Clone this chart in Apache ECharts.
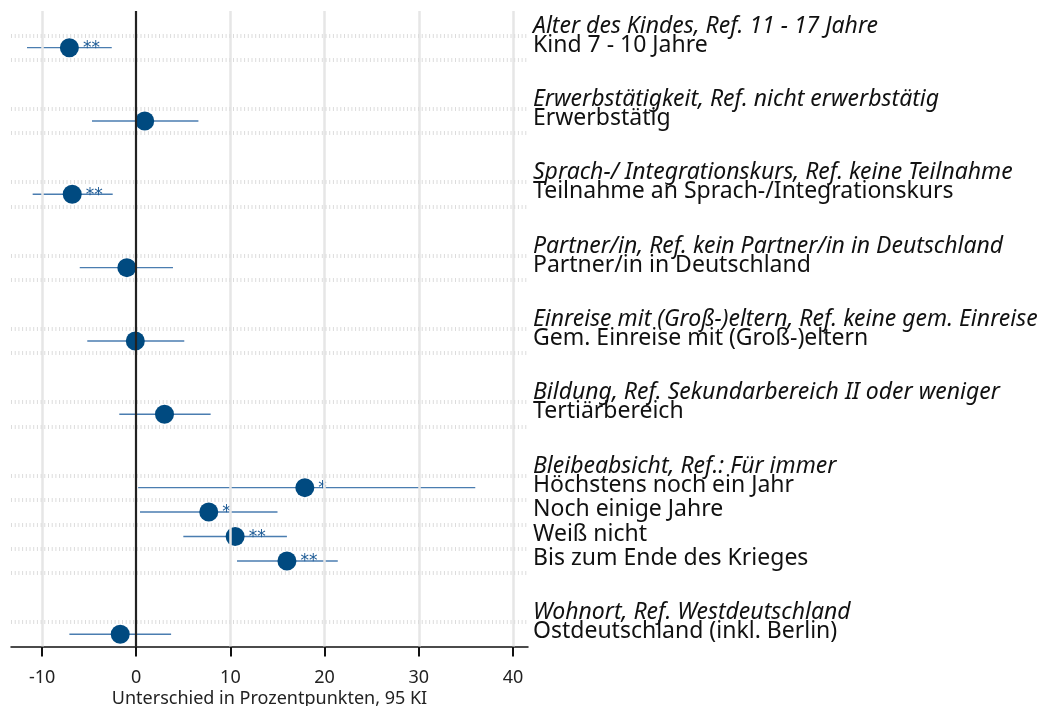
<!DOCTYPE html>
<html>
<head>
<meta charset="utf-8">
<script src="https://cdn.jsdelivr.net/npm/echarts@6/dist/echarts.min.js"></script>
<style>
  html, body { margin: 0; padding: 0; background: #fff; }
  #chart { width: 1052px; height: 706px; }
</style>
</head>
<body>
<div id="chart"></div>
<script>
// Rows of the plot, top to bottom: group headings, terms, and spacer rows ('')
const categories = [
  'Alter des Kindes, Ref. 11 - 17 Jahre', 'Kind 7 - 10 Jahre', '',
  'Erwerbstätigkeit, Ref. nicht erwerbstätig', 'Erwerbstätig', '',
  'Sprach-/ Integrationskurs, Ref. keine Teilnahme', 'Teilnahme an Sprach-/Integrationskurs', '',
  'Partner/in, Ref. kein Partner/in in Deutschland', 'Partner/in in Deutschland', '',
  'Einreise mit (Groß-)eltern, Ref. keine gem. Einreise', 'Gem. Einreise mit (Groß-)eltern', '',
  'Bildung, Ref. Sekundarbereich II oder weniger', 'Tertiärbereich', '',
  'Bleibeabsicht, Ref.: Für immer', 'Höchstens noch ein Jahr', 'Noch einige Jahre', 'Weiß nicht', 'Bis zum Ende des Krieges', '',
  'Wohnort, Ref. Westdeutschland', 'Ostdeutschland (inkl. Berlin)'
];

const headings = [
  'Alter des Kindes, Ref. 11 - 17 Jahre',
  'Erwerbstätigkeit, Ref. nicht erwerbstätig',
  'Sprach-/ Integrationskurs, Ref. keine Teilnahme',
  'Partner/in, Ref. kein Partner/in in Deutschland',
  'Einreise mit (Groß-)eltern, Ref. keine gem. Einreise',
  'Bildung, Ref. Sekundarbereich II oder weniger',
  'Bleibeabsicht, Ref.: Für immer',
  'Wohnort, Ref. Westdeutschland'
];

// Estimated differences (percentage points) with 95% confidence bounds
const terms = [
  'Kind 7 - 10 Jahre', 'Erwerbstätig', 'Teilnahme an Sprach-/Integrationskurs',
  'Partner/in in Deutschland', 'Gem. Einreise mit (Groß-)eltern', 'Tertiärbereich',
  'Höchstens noch ein Jahr', 'Noch einige Jahre', 'Weiß nicht', 'Bis zum Ende des Krieges',
  'Ostdeutschland (inkl. Berlin)'
];
const estimate = [-7.1, 0.9, -6.8, -1.0, -0.1, 3.0, 17.9, 7.7, 10.5, 16.0, -1.7];
const ciLower  = [-11.6, -4.7, -11.0, -6.0, -5.2, -1.8, 0.2, 0.4, 5.0, 10.7, -7.1];
const ciUpper  = [-2.6, 6.6, -2.5, 3.9, 5.1, 7.9, 36.0, 15.0, 16.0, 21.4, 3.7];
const stars    = ['**', '', '**', '', '', '', '*', '*', '**', '**', ''];

const xTicks = [-10, 0, 10, 20, 30, 40];
const xMin = -13.3, xMax = 41.6;

const FONT = 'Noto Sans';
const rowOf = t => categories.indexOf(t);

// dotted separators below every heading row and every term row
const separators = [];
categories.forEach((c, i) => { if (c !== '') separators.push(i + 0.5); });

const pointData = terms.map((t, i) => [estimate[i], rowOf(t)]);
const ciData = terms.map((t, i) => [ciLower[i], ciUpper[i], rowOf(t)]);

const chart = echarts.init(document.getElementById('chart'), null, { renderer: 'canvas' });

chart.setOption({
  animation: false,
  backgroundColor: '#ffffff',
  textStyle: { fontFamily: FONT },
  grid: { left: 11, right: 524, top: 11, bottom: 59.5, containLabel: false, outerBoundsMode: 'none' },
  xAxis: {
    type: 'value',
    min: xMin,
    max: xMax,
    name: 'Unterschied in Prozentpunkten, 95 KI',
    nameLocation: 'middle',
    nameGap: 43,
    nameMoveOverlap: false,
    nameTextStyle: { fontFamily: FONT, fontSize: 18, color: '#222' },
    axisLine: { show: true, onZero: false, lineStyle: { color: '#111', width: 1.5 } },
    axisTick: { show: true, customValues: xTicks, length: 10, lineStyle: { color: '#111', width: 2 } },
    axisLabel: { customValues: xTicks, fontFamily: FONT, fontSize: 18, color: '#222', margin: 22 },
    splitLine: { show: false }
  },
  yAxis: [
    {
      type: 'category',
      data: categories,
      inverse: true,
      position: 'right',
      axisLine: { show: false },
      axisTick: { show: false },
      splitLine: { show: false },
      axisLabel: {
        interval: 0,
        margin: 5,
        align: 'left',
        formatter: v => {
          if (v === '') return '';
          return headings.includes(v) ? '{h|' + v + '}' : '{d|' + v + '}';
        },
        rich: {
          h: { fontFamily: FONT, fontStyle: 'italic', fontSize: 23, color: '#111', padding: [6, 0, 0, 0] },
          d: { fontFamily: FONT, fontSize: 23, color: '#111', padding: [0, 0, 5, 0] }
        }
      }
    },
    {
      type: 'value',
      min: -0.5,
      max: categories.length - 0.5,
      inverse: true,
      show: false
    }
  ],
  series: [
    {
      // background guides: vertical grid at ticks and dotted row separators
      type: 'scatter',
      yAxisIndex: 1,
      data: [],
      z: 1,
      silent: true,
      markLine: {
        silent: true,
        symbol: 'none',
        animation: false,
        label: { show: false },
        data: [
          ...xTicks.filter(v => v !== 0).map(v => ({
            xAxis: v,
            lineStyle: { color: '#e6e6e6', width: 2.5, type: 'solid' }
          })),
          ...separators.filter(v => v < categories.length - 0.5).map(v => ({
            yAxis: v,
            lineStyle: { color: '#dcdcdc', width: 4, type: [1, 2.7] }
          }))
        ]
      }
    },
    {
      // confidence intervals
      type: 'custom',
      yAxisIndex: 1,
      z: 2,
      data: ciData,
      renderItem: (params, api) => {
        const p1 = api.coord([api.value(0), api.value(2)]);
        const p2 = api.coord([api.value(1), api.value(2)]);
        return {
          type: 'line',
          shape: { x1: p1[0], y1: p1[1], x2: p2[0], y2: p2[1] },
          style: { stroke: '#4a7db0', lineWidth: 1.4 }
        };
      }
    },
    {
      // zero reference line
      type: 'scatter',
      yAxisIndex: 1,
      data: [],
      z: 3,
      silent: true,
      markLine: {
        silent: true,
        symbol: 'none',
        animation: false,
        label: { show: false },
        data: [{ xAxis: 0, lineStyle: { color: '#222', width: 2.2, type: 'solid' } }]
      }
    },
    {
      // point estimates with significance stars
      type: 'scatter',
      yAxisIndex: 1,
      z: 4,
      data: pointData,
      symbol: 'circle',
      symbolSize: 19,
      itemStyle: { color: '#004a80', opacity: 1 },
      label: {
        show: true,
        position: 'right',
        distance: 4,
        offset: [0, 1],
        formatter: p => stars[p.dataIndex],
        fontFamily: 'DejaVu Sans',
        fontSize: 17,
        color: '#1f5c96'
      }
    }
  ]
});
</script>
</body>
</html>
